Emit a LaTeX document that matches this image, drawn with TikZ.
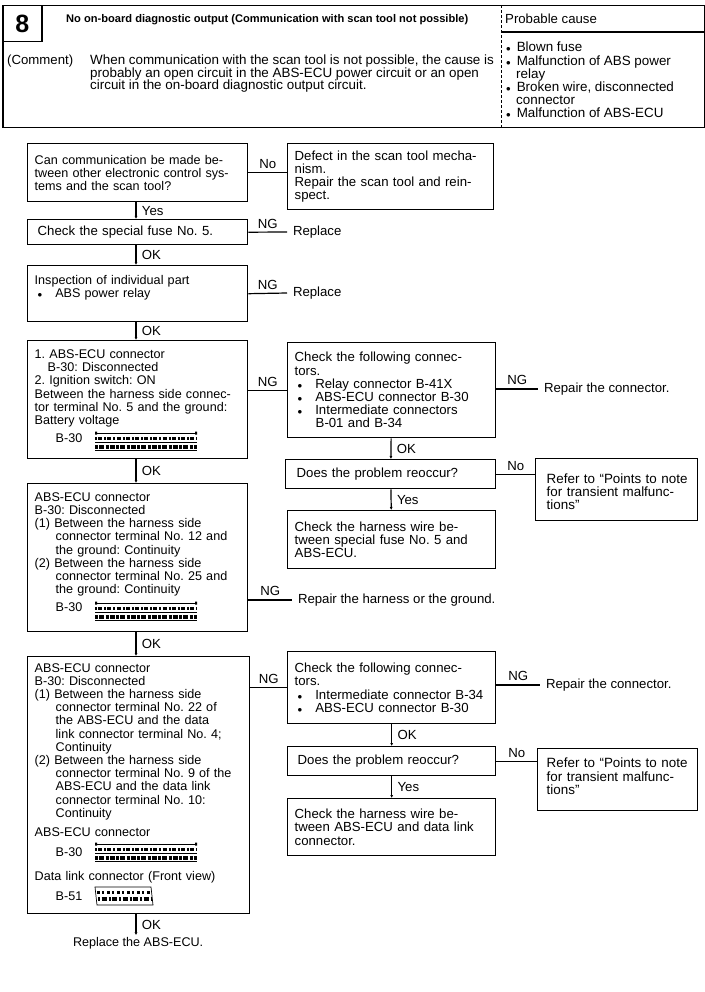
\documentclass[tikz,border=0pt]{standalone}
\usepackage{fontspec}
\setmainfont{Liberation Sans}
\usetikzlibrary{arrows.meta}
\frenchspacing

\newcommand{\stepfont}{\fontsize{12.6}{13.2}\selectfont}
\newcommand{\wideface}{\fontsize{13.2}{13.2}\selectfont}
\newcommand{\ind}{\hspace*{13pt}}
\newcommand{\indd}{\hspace*{21pt}}
\newcommand{\tailgap}[1]{\rule[-#1]{0pt}{#1}}

\begin{document}
\begin{tikzpicture}[x=1pt,y=-1pt,auto,every node/.style={font=\stepfont},
	flowbox/.style 2 args={draw,line width=1.4pt,anchor=north west,align=left,inner xsep=7pt,inner ysep=0pt,
		text width=#1,minimum height=#2},
	sidebox/.style 2 args={flowbox={#1}{#2},font=\wideface},
	plaintext/.style={anchor=west,inner sep=0pt,outer sep=6pt,align=left,font=\wideface},
	flow/.style={line width=1.2pt,every node/.append style={font=\wideface}},
	down/.style={line width=1.2pt,-{Latex[length=3pt,width=3pt]},every node/.append style={font=\wideface,xshift=2pt}},
	connstrip/.pic={
		\draw[line width=.8pt] (0,0) -- (102,0);
		\fill (0,-1.5) rectangle (2,1.5) (100,-1.5) rectangle (102,1.5);
		\draw[line width=3pt,dash pattern=on 2pt off 1.2pt on 4pt off 2pt] (0,5) -- (102,5);
		\draw[line width=1.2pt] (0,9.5) -- (102,9.5);
		\draw[line width=3.5pt,dash pattern=on 3pt off 1pt on 5pt off 1.5pt] (0,14) -- (102,14);
		\draw[line width=.8pt] (0,17) -- (102,17);
	},
	linkstrip/.pic={
		\draw[line width=.7pt] (0,0) -- (56,0) -- (58,18) -- (2,18) -- cycle;
		\draw[line width=3pt,dash pattern=on 3pt off 2pt on 2pt off 3pt] (2,5) -- (56,5);
		\draw[line width=4pt,dash pattern=on 2pt off 1.5pt on 5pt off 2pt] (3,12) -- (57,12);
	}]
	\useasboundingbox (0,0) rectangle (704,992);

	% header
	\node[draw,line width=1.5pt,anchor=north west,inner sep=0pt,minimum width=702,minimum height=122] (frame) at (2,5) {};
	\node[draw,line width=1.5pt,anchor=north west,inner sep=0pt,minimum width=39,minimum height=36,font=\fontsize{25}{25}\selectfont\bfseries] (num) at (2,5) {8};
	\node[anchor=west,inner sep=0pt,font=\fontsize{11.1}{12}\selectfont\bfseries] (title) at (66,20) {No on-board diagnostic output (Communication with scan tool not possible)};
	\node[anchor=west,inner sep=0pt,font=\wideface] (cause) at (505,19) {Probable cause};
	\coordinate (divtop) at (501,5);
	\coordinate (divbot) at (501,127);
	\coordinate (causeend) at (704,32);
	\draw[line width=.8pt,densely dashed] (divtop) -- (divbot);
	\draw[line width=1.3pt] (divtop |- causeend) -- (causeend);
	\node[anchor=north west,inner sep=0pt,font=\wideface] (comment) at (7,54.5) {(Comment)};
	\node[anchor=north west,inner sep=0pt,align=left,font=\fontsize{13.4}{12.6}\selectfont] (commenttext) at (90,54.5)
		{When communication with the scan tool is not possible, the cause is\\
		probably an open circuit in the ABS-ECU power circuit or an open\\
		circuit in the on-board diagnostic output circuit.};
	\node[anchor=north west,inner sep=0pt,align=left,font=\fontsize{13.4}{13.1}\selectfont] (causes) at (506,42)
		{$\scriptstyle\bullet$ \,Blown fuse\\
		$\scriptstyle\bullet$ \,Malfunction of ABS power\\
		\hspace*{10pt}relay\\
		$\scriptstyle\bullet$ \,Broken wire, disconnected\\
		\hspace*{10pt}connector\\
		$\scriptstyle\bullet$ \,Malfunction of ABS-ECU};

	% left column
	\node[flowbox={206pt}{58pt}] (talk) at (27,143)
		{Can communication be made be-\\tween other electronic control sys-\\tems and the scan tool?};
	\node[sidebox={206pt}{25pt}] (fuse) at (27,219) {\hspace*{3pt}Check the special fuse No. 5.};
	\node[flowbox={206pt}{56pt}] (relay) at (27,265)
		{Inspection of individual part\\\hspace*{3pt}$\scriptstyle\bullet$\ind ABS power relay\tailgap{15pt}};
	\node[flowbox={206pt}{118pt}] (power) at (27,340)
		{1. ABS-ECU connector\\\ind B-30: Disconnected\\2. Ignition switch: ON\\
		Between the harness side connec-\\tor terminal No. 5 and the ground:\\Battery voltage\\[5pt]
		\indd B-30\tailgap{7pt}};
	\node[flowbox={206pt}{148pt}] (ground) at (27,483)
		{ABS-ECU connector\\B-30: Disconnected\\
		(1) Between the harness side\\\indd connector terminal No. 12 and\\\indd the ground: Continuity\\
		(2) Between the harness side\\\indd connector terminal No. 25 and\\\indd the ground: Continuity\\[5pt]
		\indd B-30\tailgap{11pt}};
	\node[flowbox={208pt}{257pt}] (link) at (27,656)
		{ABS-ECU connector\\B-30: Disconnected\\
		(1) Between the harness side\\\indd connector terminal No. 22 of\\\indd the ABS-ECU and the data\\\indd link connector terminal No. 4;\\\indd Continuity\\
		(2) Between the harness side\\\indd connector terminal No. 9 of the\\\indd ABS-ECU and the data link\\\indd connector terminal No. 10:\\\indd Continuity\\[6pt]
		ABS-ECU connector\\[7pt]\indd B-30\\[11pt]
		Data link connector (Front view)\\[6pt]\indd B-51\tailgap{7pt}};
	\node[plaintext,outer sep=2pt,font=\stepfont] (replace) at (71,943) {Replace the ABS-ECU.};

	% right column
	\node[sidebox={192pt}{66pt}] (tool) at (287,143)
		{Defect in the scan tool mecha-\\nism.\\Repair the scan tool and rein-\\spect.};
	\node[plaintext] (replfuse) at (287,232) {Replace};
	\node[plaintext] (replrelay) at (287,293) {Replace};
	\node[sidebox={194pt}{95pt}] (conn) at (287,342)
		{Check the following connec-\\tors.\\\hspace*{3pt}$\scriptstyle\bullet$\ind Relay connector B-41X\\
		\hspace*{3pt}$\scriptstyle\bullet$\ind ABS-ECU connector B-30\\\hspace*{3pt}$\scriptstyle\bullet$\ind Intermediate connectors\\\indd B-01 and B-34};
	\node[plaintext] (repconn) at (538,389) {Repair the connector.};
	\node[sidebox={196pt}{29pt}] (again) at (285,459) {\hspace*{4pt}Does the problem reoccur?};
	\node[sidebox={146pt}{62pt},inner xsep=8pt,font=\fontsize{13.4}{13.2}\selectfont] (refer) at (535,458)
		{\rule{0pt}{14pt}\hspace*{3pt}Refer to ``Points to note\\\hspace*{3pt}for transient malfunc-\\\hspace*{3pt}tions''};
	\node[sidebox={194pt}{58pt}] (wire) at (287,510)
		{Check the harness wire be-\\tween special fuse No. 5 and\\ABS-ECU.};
	\node[plaintext] (repground) at (292,600) {Repair the harness or the ground.};
	\node[sidebox={194pt}{72pt}] (conntwo) at (287,651)
		{Check the following connec-\\tors.\\\hspace*{3pt}$\scriptstyle\bullet$\ind Intermediate connector B-34\\
		\hspace*{3pt}$\scriptstyle\bullet$\ind ABS-ECU connector B-30};
	\node[plaintext] (repconntwo) at (540,685) {Repair the connector.};
	\node[sidebox={194pt}{29pt}] (againtwo) at (287,746) {\hspace*{3pt}Does the problem reoccur?};
	\node[sidebox={144pt}{62pt},inner xsep=8pt,font=\fontsize{13.4}{13.2}\selectfont] (refertwo) at (537,748)
		{\hspace*{1pt}Refer to ``Points to note\\\hspace*{1pt}for transient malfunc-\\\hspace*{1pt}tions''\tailgap{7pt}};
	\node[sidebox={194pt}{57pt}] (wiretwo) at (287,798)
		{Check the harness wire be-\\tween ABS-ECU and data link\\connector.};

	% connector sketches
	\pic at (95,433) {connstrip};
	\pic at (95,603) {connstrip};
	\pic at (95,844) {connstrip};
	\pic at (95,887) {linkstrip};

	\path[down]	(talk.south -| 136,0)	edge	node	{Yes} (fuse.north -| 136,0)
				(fuse.south -| 136,0)	edge	node	{OK} (relay.north -| 136,0)
				(relay.south -| 136,0)	edge	node	{OK} (power.north -| 136,0)
				(power.south -| 136,0)	edge	node	{OK} (ground.north -| 136,0)
				(ground.south -| 136,0)	edge	node	{OK} (link.north -| 136,0)
				(link.south -| 136,0)	edge	node	{OK} (replace.north -| 136,0)
				(conn)	edge	node	{OK} (again)
				(again)	edge	node	{Yes} (wire)
				(conntwo)	edge	node	{OK} (againtwo)
				(againtwo)	edge	node	{Yes} (wiretwo);

	\path[flow]	(talk.east)	edge	node	{No} (talk.east -| tool.west)
				(fuse.east)	edge	node	{NG} (replfuse.west)
				(relay.east)	edge	node	{NG} (replrelay.west)
				(power.east |- conn.west)	edge	node	{NG} (conn.west)
				(conn.east |- repconn.west)	edge	node	{NG} (repconn.west)
				(again.east)	edge	node	{No} (again.east -| refer.west)
				(ground.east |- repground.west)	edge	node	{NG} (repground.west)
				(link.east |- conntwo.west)	edge	node	{NG} (conntwo.west)
				(conntwo.east |- repconntwo.west)	edge	node	{NG} (repconntwo.west)
				(againtwo.east)	edge	node	{No} (againtwo.east -| refertwo.west);
\end{tikzpicture}
\end{document}
